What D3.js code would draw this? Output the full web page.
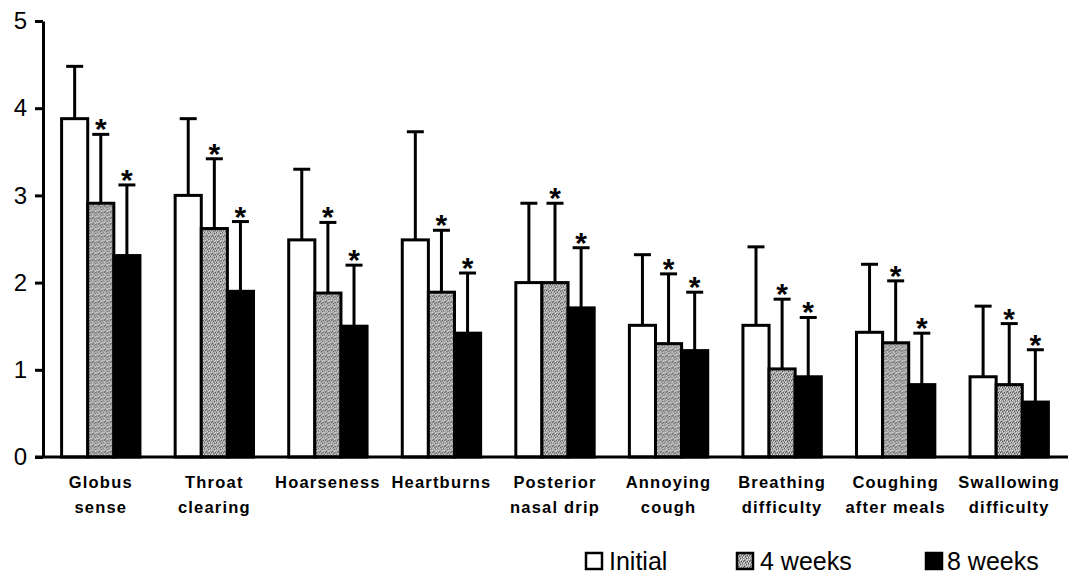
<!DOCTYPE html>
<html>
<head>
<meta charset="utf-8">
<script src="https://cdn.jsdelivr.net/npm/d3@7"></script>
<style>
  html, body { margin: 0; padding: 0; background: #fff; }
  svg { display: block; }
  text { font-family: "Liberation Sans", Arial, Helvetica, sans-serif; fill: #000; }
</style>
</head>
<body>
<svg id="chart" width="1068" height="574"></svg>
<script>
// Symptom categories (two-line labels split on "\n")
const categories = [
  "Globus\nsense", "Throat\nclearing", "Hoarseness", "Heartburns",
  "Posterior\nnasal drip", "Annoying\ncough", "Breathing\ndifficulty",
  "Coughing\nafter meals", "Swallowing\ndifficulty"
];
const seriesNames = ["Initial", "4 weeks", "8 weeks"];

// Mean symptom scores
const initialMean = [3.88, 3.00, 2.49, 2.49, 2.00, 1.51, 1.51, 1.43, 0.92];
const week4Mean   = [2.91, 2.62, 1.88, 1.89, 2.00, 1.30, 1.01, 1.31, 0.83];
const week8Mean   = [2.31, 1.90, 1.50, 1.42, 1.71, 1.22, 0.92, 0.83, 0.63];

// Standard deviations (upper error bars)
const initialSD = [0.60, 0.88, 0.81, 1.24, 0.91, 0.81, 0.90, 0.78, 0.81];
const week4SD   = [0.79, 0.80, 0.81, 0.71, 0.91, 0.80, 0.80, 0.71, 0.70];
const week8SD   = [0.81, 0.80, 0.70, 0.69, 0.69, 0.67, 0.68, 0.59, 0.60];

// Significance flags (asterisks) per series
const initialSig = [false, false, false, false, false, false, false, false, false];
const week4Sig   = [true, true, true, true, true, true, true, true, true];
const week8Sig   = [true, true, true, true, true, true, true, true, true];

const yTicks = [0, 1, 2, 3, 4, 5];

const means = [initialMean, week4Mean, week8Mean];
const sds = [initialSD, week4SD, week8SD];
const sigs = [initialSig, week4Sig, week8Sig];

const svg = d3.select("#chart");
svg.append("rect").attr("width", 1068).attr("height", 574).attr("fill", "#fff");

// Halftone-like grey texture for the 4-week bars
const defs = svg.append("defs");
const pat = defs.append("pattern")
  .attr("id", "greyTone")
  .attr("patternUnits", "userSpaceOnUse")
  .attr("width", 6).attr("height", 6);
pat.append("rect").attr("width", 6).attr("height", 6).attr("fill", "#a2a2a2");
const light = [[0,0],[3,1],[5,2],[1,3],[4,4],[2,5],[0,4],[4,0]];
const dark  = [[1,1],[4,2],[2,3],[5,4],[0,2],[3,5]];
light.forEach(([px, py]) => pat.append("rect").attr("x", px).attr("y", py).attr("width", 1).attr("height", 1).attr("fill", "#dedede"));
dark.forEach(([px, py]) => pat.append("rect").attr("x", px).attr("y", py).attr("width", 1).attr("height", 1).attr("fill", "#555"));

const fills = ["#ffffff", "url(#greyTone)", "#000000"];

const x = d3.scaleBand()
  .domain(categories)
  .range([44, 1066])
  .paddingInner(0.31)
  .paddingOuter(0.155);

const xs = d3.scaleBand()
  .domain(d3.range(seriesNames.length))
  .range([0, x.bandwidth()])
  .padding(0);

const y = d3.scaleLinear().domain([0, 5]).range([457, 21]);

// Bars
const groups = svg.append("g").selectAll("g")
  .data(categories)
  .join("g")
  .attr("transform", d => `translate(${x(d)},0)`);

seriesNames.forEach((name, s) => {
  groups.append("rect")
    .attr("x", xs(s))
    .attr("width", xs.bandwidth())
    .attr("y", (d, i) => y(means[s][i]))
    .attr("height", (d, i) => y(0) - y(means[s][i]))
    .attr("fill", fills[s])
    .attr("stroke", "#000")
    .attr("stroke-width", 3);
});

// Error bars and significance markers
const capW = 17;
seriesNames.forEach((name, s) => {
  const cx = xs(s) + xs.bandwidth() / 2;
  groups.append("line")
    .attr("x1", cx).attr("x2", cx)
    .attr("y1", (d, i) => y(means[s][i]))
    .attr("y2", (d, i) => y(means[s][i] + sds[s][i]))
    .attr("stroke", "#000").attr("stroke-width", 3);
  groups.append("line")
    .attr("x1", cx - capW / 2).attr("x2", cx + capW / 2)
    .attr("y1", (d, i) => y(means[s][i] + sds[s][i]))
    .attr("y2", (d, i) => y(means[s][i] + sds[s][i]))
    .attr("stroke", "#000").attr("stroke-width", 3);
  groups.filter((d, i) => sigs[s][i])
    .append("text")
    .attr("x", cx)
    .attr("y", d => y(means[s][categories.indexOf(d)] + sds[s][categories.indexOf(d)]) + 5)
    .attr("text-anchor", "middle")
    .attr("font-size", 30)
    .attr("font-weight", "bold")
    .text("*");
});

// Y axis
const yAxis = svg.append("g")
  .attr("transform", "translate(43,0)")
  .call(d3.axisLeft(y).tickValues(yTicks).tickFormat(d3.format("d")).tickSize(8).tickSizeOuter(0));
yAxis.select(".domain").attr("stroke", "#000").attr("stroke-width", 3);
yAxis.selectAll(".tick line").attr("stroke", "#000").attr("stroke-width", 3);
yAxis.selectAll(".tick text")
  .attr("x", -16)
  .attr("font-size", 24)
  .attr("font-family", "'Liberation Sans', Arial, sans-serif")
  .attr("fill", "#000");

// Baseline
svg.append("line")
  .attr("x1", 35).attr("x2", 1068)
  .attr("y1", y(0)).attr("y2", y(0))
  .attr("stroke", "#000").attr("stroke-width", 3);

// Category labels
const labels = svg.append("g").selectAll("text")
  .data(categories)
  .join("text")
  .attr("x", d => x(d) + x.bandwidth() / 2)
  .attr("y", 488)
  .attr("text-anchor", "middle")
  .attr("font-size", 16.5)
  .attr("font-weight", "bold")
  .attr("letter-spacing", 1.2);
labels.each(function(d) {
  const t = d3.select(this);
  const cx = x(d) + x.bandwidth() / 2;
  d.split("\n").forEach((line, k) => {
    t.append("tspan").attr("x", cx).attr("dy", k === 0 ? 0 : 25).text(line);
  });
});

// Legend
const legendX = [586, 737, 926];
const legend = svg.append("g").selectAll("g")
  .data(seriesNames)
  .join("g")
  .attr("transform", (d, i) => `translate(${legendX[i]},553)`);
legend.append("rect")
  .attr("x", 0).attr("y", 0)
  .attr("width", 16).attr("height", 16)
  .attr("fill", (d, i) => fills[i])
  .attr("stroke", "#000").attr("stroke-width", 2.5);
legend.append("text")
  .attr("x", (d, i) => i === 2 ? 21 : 23)
  .attr("y", 17)
  .attr("font-size", 25)
  .text(d => d);
</script>
</body>
</html>
